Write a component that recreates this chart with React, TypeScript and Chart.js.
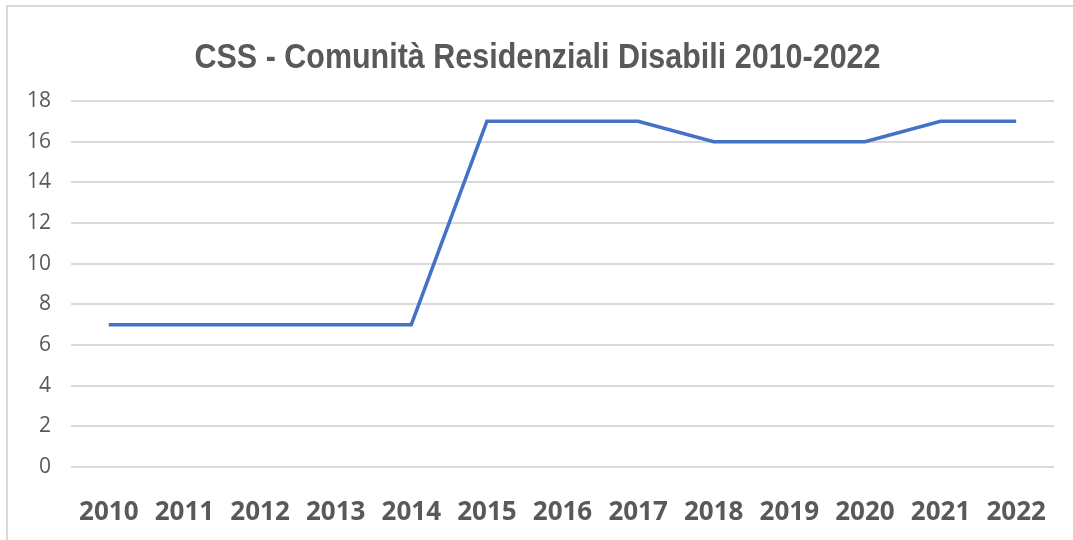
import React, { useEffect, useRef } from "react";
import { Chart, registerables } from "chart.js";

Chart.register(...registerables);

const years = ["2010", "2011", "2012", "2013", "2014", "2015", "2016", "2017", "2018", "2019", "2020", "2021", "2022"];
const strutture = [7, 7, 7, 7, 7, 17, 17, 17, 16, 16, 16, 17, 17];
const titleText = "CSS - Comunità Residenziali Disabili 2010-2022";

const W = 1073;
const H = 540;
const AREA_LEFT = 71;
const AREA_RIGHT = 1054;
const AREA_TOP = 101;
const AREA_BOTTOM = 467;

const narrowTitle = {
  id: "narrowTitle",
  afterDraw(chart: any) {
    const ctx = chart.ctx as CanvasRenderingContext2D;
    ctx.save();
    ctx.font = "bold 35.5px 'Liberation Sans', Arial, sans-serif";
    ctx.fillStyle = "#595959";
    ctx.textAlign = "center";
    ctx.textBaseline = "alphabetic";
    ctx.fillText(titleText, 537.5, 68, 686);
    ctx.restore();
  },
};

export default function App() {
  const ref = useRef<HTMLCanvasElement | null>(null);

  useEffect(() => {
    document.body.style.margin = "0";
    const canvas = ref.current;
    if (!canvas) return;
    const chart = new Chart(canvas, {
      type: "line",
      data: {
        labels: years,
        datasets: [
          {
            data: strutture,
            borderColor: "#4472C4",
            borderWidth: 3.5,
            pointRadius: 0,
            tension: 0,
            fill: false,
          },
        ],
      },
      options: {
        animation: false,
        responsive: false,
        layout: { padding: { left: 0, right: W - AREA_RIGHT, top: AREA_TOP, bottom: 0 } },
        plugins: {
          legend: { display: false },
          tooltip: { enabled: false },
          title: { display: false },
        },
        scales: {
          x: {
            offset: true,
            grid: { display: false, drawTicks: false },
            border: { display: false },
            ticks: {
              color: "#595959",
              font: { family: "'Open Sans', sans-serif", size: 26, weight: "bold" },
              padding: 30,
              maxRotation: 0,
              autoSkip: false,
            },
            afterFit: (s: any) => {
              s.height = H - AREA_BOTTOM;
              s.paddingLeft = 0;
              s.paddingRight = 0;
            },
          },
          y: {
            min: 0,
            max: 18,
            grid: { color: "#dadada", lineWidth: 2, drawTicks: false },
            border: { display: false },
            ticks: {
              stepSize: 2,
              color: "#595959",
              font: { family: "'Open Sans', sans-serif", size: 21 },
              padding: 20,
            },
            afterFit: (s: any) => {
              s.width = AREA_LEFT;
            },
          },
        },
      },
      plugins: [narrowTitle],
    });
    return () => chart.destroy();
  }, []);

  return (
    <div style={{ position: "relative", width: W, height: H, background: "#fff", overflow: "hidden" }}>
      <div
        style={{
          position: "absolute",
          left: 6,
          top: 5,
          width: W + 20,
          height: H + 20,
          borderLeft: "2px solid #d9d9d9",
          borderTop: "2px solid #d9d9d9",
          boxSizing: "border-box",
        }}
      />
      <canvas ref={ref} width={W} height={H} style={{ position: "absolute", left: 0, top: 0 }} />
    </div>
  );
}
